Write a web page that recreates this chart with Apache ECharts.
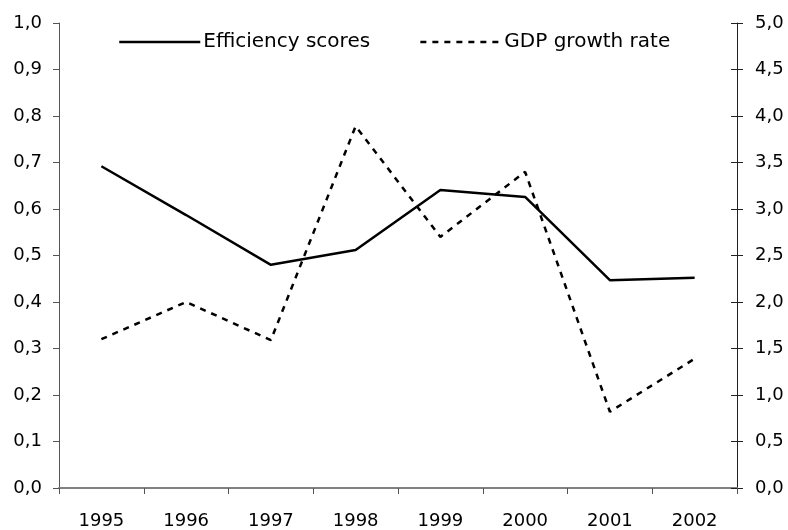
<!DOCTYPE html>
<html>
<head>
<meta charset="utf-8">
<script src="https://cdn.jsdelivr.net/npm/echarts@6/dist/echarts.min.js"></script>
<style>html,body{margin:0;padding:0;background:#fff}#c{width:788px;height:530px}</style>
</head>
<body>
<div id="c"></div>
<script>
const years = ['1995','1996','1997','1998','1999','2000','2001','2002'];
const efficiency = [0.692, 0.587, 0.480, 0.512, 0.641, 0.626, 0.447, 0.452];
const gdpGrowth = [1.60, 2.00, 1.59, 3.89, 2.70, 3.40, 0.82, 1.39];
const leftTicks = {min: 0, max: 1, interval: 0.1};
const rightTicks = {min: 0, max: 5, interval: 0.5};

const FONT = 'DejaVu Sans';
const fmt = v => v.toFixed(1).replace('.', ',');
const chart = echarts.init(document.getElementById('c'), null, {renderer: 'canvas'});
chart.setOption({
  animation: false,
  backgroundColor: '#fff',
  textStyle: {fontFamily: FONT},
  grid: {left: 59, right: 51, top: 23, bottom: 42, containLabel: false},
  legend: {
    left: 113, top: 27, itemWidth: 81, itemHeight: 14, itemGap: 49,
    itemStyle: {opacity: 0},
    lineStyle: {width: 2.5},
    textStyle: {fontFamily: FONT, fontSize: 20, color: '#000', padding: [0,0,0,-2]},
    data: ['Efficiency scores', 'GDP growth rate']
  },
  xAxis: {
    type: 'category', data: years, boundaryGap: true,
    axisLine: {lineStyle: {color: '#808080', width: 2}},
    axisTick: {show: true, alignWithLabel: false, length: 6, lineStyle: {color: '#555', width: 1}},
    axisLabel: {fontFamily: FONT, fontSize: 18, color: '#000', margin: 24},
    splitLine: {show: false}
  },
  yAxis: [
    {
      type: 'value', position: 'left', min: leftTicks.min, max: leftTicks.max, interval: leftTicks.interval,
      axisLine: {show: true, lineStyle: {color: '#555', width: 1}},
      axisTick: {show: true, length: 6, lineStyle: {color: '#555'}},
      axisLabel: {fontFamily: FONT, fontSize: 18, color: '#000', margin: 17, formatter: fmt},
      splitLine: {show: false}
    },
    {
      type: 'value', position: 'right', min: rightTicks.min, max: rightTicks.max, interval: rightTicks.interval,
      axisLine: {show: true, lineStyle: {color: '#222', width: 1}},
      axisTick: {show: true, length: 6, lineStyle: {color: '#222'}},
      axisLabel: {fontFamily: FONT, fontSize: 18, color: '#000', margin: 18, formatter: fmt},
      splitLine: {show: false}
    },
    {
      type: 'value', position: 'right', min: rightTicks.min, max: rightTicks.max, interval: rightTicks.interval,
      axisLine: {show: false},
      axisTick: {show: true, inside: true, length: 6, lineStyle: {color: '#222'}},
      axisLabel: {show: false},
      splitLine: {show: false}
    }
  ],
  series: [
    {
      name: 'Efficiency scores', type: 'line', yAxisIndex: 0, data: efficiency,
      symbol: 'none', lineStyle: {color: '#000', width: 2.5, type: 'solid'}, itemStyle: {color: '#000'}
    },
    {
      name: 'GDP growth rate', type: 'line', yAxisIndex: 1, data: gdpGrowth,
      symbol: 'none', lineStyle: {color: '#000', width: 2.5, type: [6, 6]}, itemStyle: {color: '#000'}
    }
  ]
});
</script>
</body>
</html>
